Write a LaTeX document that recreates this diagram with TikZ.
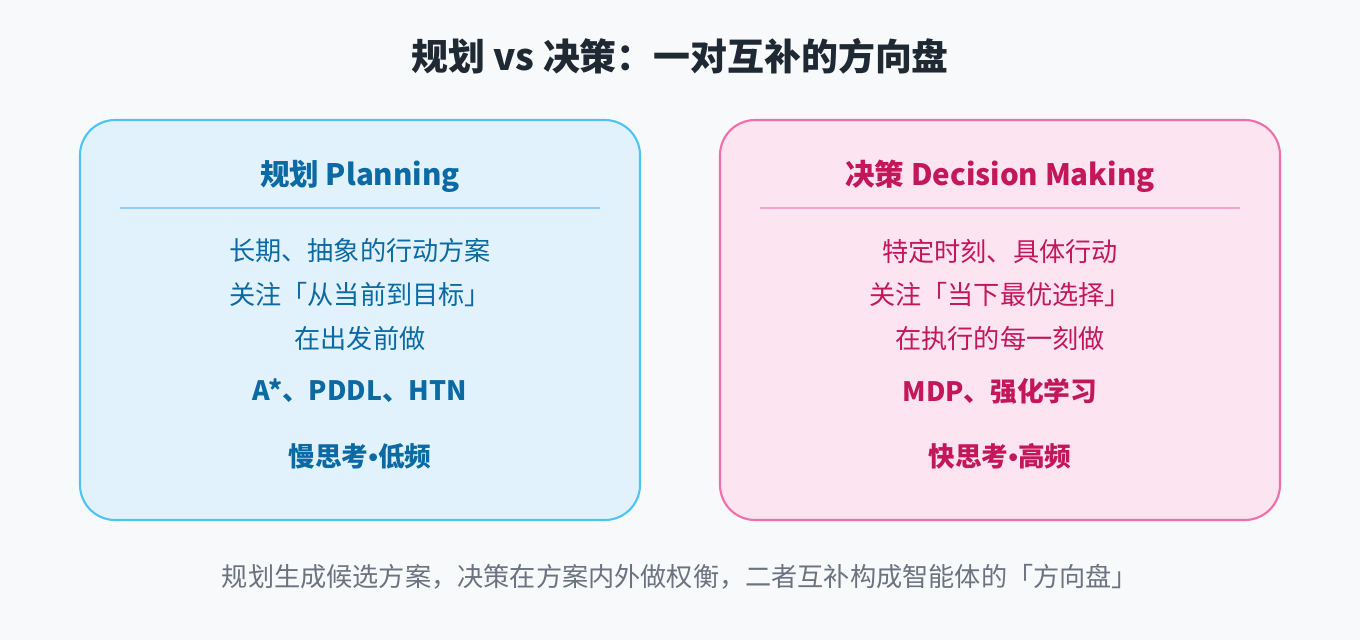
\documentclass[tikz,border=0pt]{standalone}
\usepackage{fontspec}
\setmainfont{Noto Sans CJK SC}
\newfontfamily\bulletfont{Liberation Sans}
\usetikzlibrary{positioning}

\definecolor{bgcol}{HTML}{F8F9FB}
\definecolor{darktext}{HTML}{1F2933}
\definecolor{greytext}{HTML}{6B7280}
\definecolor{planfill}{HTML}{E1F2FD}
\definecolor{planedge}{HTML}{4FC3F7}
\definecolor{planline}{HTML}{90CAF9}
\definecolor{plantext}{HTML}{0B6AA3}
\definecolor{decfill}{HTML}{FCE4F0}
\definecolor{decedge}{HTML}{F06EAA}
\definecolor{decline}{HTML}{F4A3C8}
\definecolor{dectext}{HTML}{C2185B}

\newcommand{\dotsep}{{\bulletfont\bfseries •}}

\tikzset{
	card/.style={rounded corners=20,line width=1.2pt},
	cardtitle/.style={font=\fontsize{16.8}{20}\selectfont\bfseries},
	bodytext/.style={font=\fontsize{14.9}{18}\selectfont},
	boldtext/.style={font=\fontsize{15.2}{18}\selectfont\bfseries},
}

\begin{document}
\begin{tikzpicture}[x=0.02cm,y=-0.02cm]
		\fill[bgcol] (0,0) rectangle (1360,640);
		\useasboundingbox (0,0) rectangle (1360,640);
		
		\node[font=\fontsize{21}{25}\selectfont\bfseries,text=darktext] (title) at (680,56) {规划 vs 决策：一对互补的方向盘};
		
		% left card
		\draw[card,fill=planfill,draw=planedge] (80,120) rectangle (640,520);
		\node[cardtitle,text=plantext] (plantitle) at (360,176) {规划 Planning};
		\draw[planline,line width=1pt] (120,208) -- (600,208);
		\foreach \t[count=\i] in {长期、抽象的行动方案,关注「从当前到目标」,在出发前做}{
			\node[bodytext,text=plantext] (p\i) at (360,207+44*\i) {\t};
		}
		\node[boldtext,text=plantext] (palgo) at (360,391) {A*、PDDL、HTN};
		\node[boldtext,text=plantext] (pspeed) at (360,456) {慢思考\dotsep 低频};
		
		% right card
		\draw[card,fill=decfill,draw=decedge] (720,120) rectangle (1280,520);
		\node[cardtitle,text=dectext] (dectitle) at (1000,176) {决策 Decision Making};
		\draw[decline,line width=1pt] (760,208) -- (1240,208);
		\foreach \t[count=\i] in {特定时刻、具体行动,关注「当下最优选择」,在执行的每一刻做}{
			\node[bodytext,text=dectext] (d\i) at (1000,207+44*\i) {\t};
		}
		\node[boldtext,text=dectext] (dalgo) at (1000,391) {MDP、强化学习};
		\node[boldtext,text=dectext] (dspeed) at (1000,456) {快思考\dotsep 高频};
		
		\node[bodytext,text=greytext] (footer) at (680,577) {规划生成候选方案，决策在方案内外做权衡，二者互补构成智能体的「方向盘」};
		\end{tikzpicture}
\end{document}
